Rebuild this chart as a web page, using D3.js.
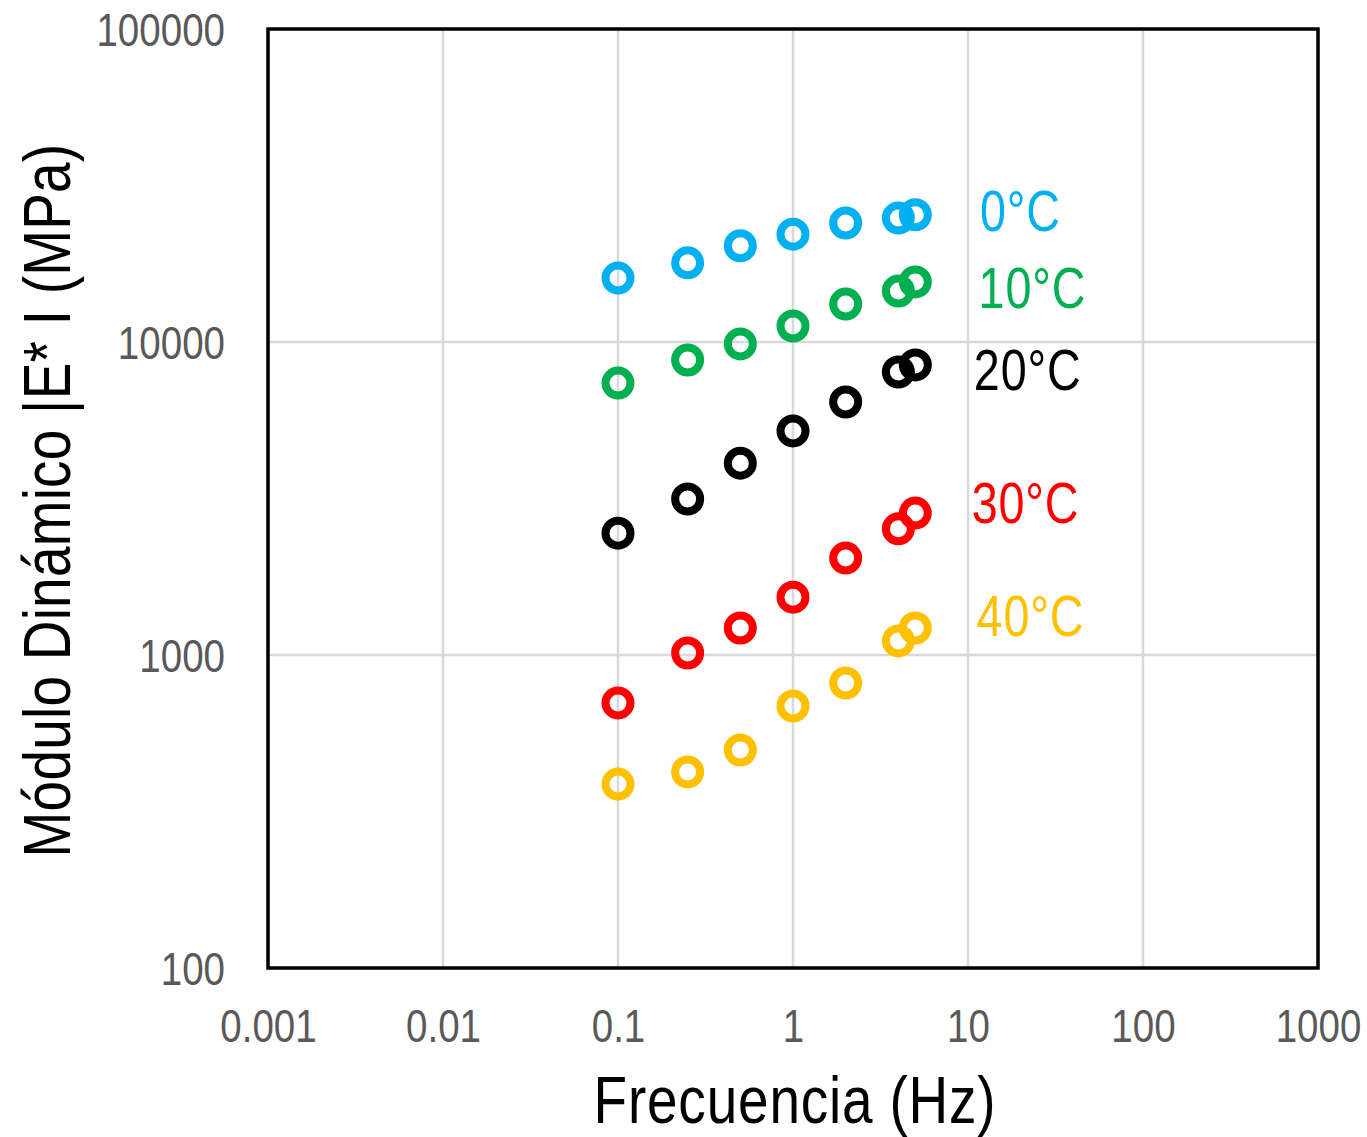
<!DOCTYPE html>
<html>
<head>
<meta charset="utf-8">
<script src="https://cdn.jsdelivr.net/npm/d3@7"></script>
<style>
  body { margin: 0; background: #fff; }
  text { font-family: "Liberation Sans", Arial, sans-serif; }
</style>
</head>
<body>
<div id="chart"></div>
<script>
// Data
const freqs = [0.1, 0.25, 0.5, 1, 2, 4, 5];
const e0  = [16000, 17900, 20300, 22100, 24000, 24900, 25500];
const e10 = [7390, 8760, 9860, 11250, 13220, 14550, 15560];
const e20 = [2450, 3150, 4100, 5200, 6430, 8020, 8450];
const e30 = [703, 1015, 1220, 1530, 2040, 2530, 2840];
const e40 = [387, 423, 497, 687, 814, 1109, 1220];

const seriesNames = ["0°C", "10°C", "20°C", "30°C", "40°C"];
const seriesColors = ["#00B0F0", "#00B050", "#000000", "#FF0000", "#FFC000"];
// label anchor (freq, value) for each series
const labelFreq = [11.7, 11.5, 10.8, 10.5, 11.2];
const labelValue = [26400, 14900, 8140, 3060, 1340];

const xTicks = [0.001, 0.01, 0.1, 1, 10, 100, 1000];
const yTicks = [100, 1000, 10000, 100000];

const svgW = 1367, svgH = 1137;
const margin = { top: 29, right: 49, bottom: 169, left: 268 };
const width = svgW - margin.left - margin.right;
const height = svgH - margin.top - margin.bottom;
const narrow = 0.82;   // narrow font look

const svg = d3.select("#chart").append("svg")
  .attr("width", svgW)
  .attr("height", svgH);

const g = svg.append("g")
  .attr("transform", `translate(${margin.left},${margin.top})`);

const x = d3.scaleLog().domain([0.001, 1000]).range([0, width]);
const y = d3.scaleLog().domain([100, 100000]).range([height, 0]);

// grid lines
g.append("g").selectAll("line").data(xTicks).enter().append("line")
  .attr("x1", d => x(d)).attr("x2", d => x(d))
  .attr("y1", 0).attr("y2", height)
  .attr("stroke", "#d9d9d9").attr("stroke-width", 2.5);
g.append("g").selectAll("line").data(yTicks).enter().append("line")
  .attr("y1", d => y(d)).attr("y2", d => y(d))
  .attr("x1", 0).attr("x2", width)
  .attr("stroke", "#d9d9d9").attr("stroke-width", 2.5);

// frame
g.append("rect")
  .attr("x", 0).attr("y", 0)
  .attr("width", width).attr("height", height)
  .attr("fill", "none").attr("stroke", "#000").attr("stroke-width", 3.5);

// axes (labels only)
const xAxis = g.append("g")
  .attr("transform", `translate(0,${height})`)
  .call(d3.axisBottom(x).tickValues(xTicks).tickFormat(d => String(d)).tickSize(0).tickPadding(41));
const yAxis = g.append("g")
  .call(d3.axisLeft(y).tickValues(yTicks).tickFormat(d => String(d)).tickSize(0));
[xAxis, yAxis].forEach(a => {
  a.select(".domain").remove();
  a.selectAll("text")
    .attr("fill", "#595959")
    .style("font-size", "47px")
    .style("font-family", "'Liberation Sans', Arial, sans-serif")
    .attr("transform", `scale(${narrow},1)`);
});
yAxis.selectAll("text").attr("x", -43 / narrow).attr("dy", "0.36em");
xAxis.selectAll("text").attr("dy", "0.71em");

// series
const allSeries = [e0, e10, e20, e30, e40];
allSeries.forEach((vals, i) => {
  g.append("g").selectAll("circle")
    .data(vals).enter().append("circle")
    .attr("cx", (d, j) => x(freqs[j]))
    .attr("cy", d => y(d))
    .attr("r", 12.5)
    .attr("fill", "none")
    .attr("stroke", seriesColors[i])
    .attr("stroke-width", 8);

  g.append("text")
    .attr("transform", `translate(${x(labelFreq[i])},${y(labelValue[i])}) scale(${narrow},1)`)
    .attr("dy", "0.36em")
    .attr("fill", seriesColors[i])
    .style("font-size", "57px")
    .style("letter-spacing", "1px")
    .text(seriesNames[i]);
});

// axis titles
svg.append("text")
  .attr("transform", `translate(${margin.left + width / 2 + 2},1123) scale(${narrow},1)`)
  .attr("text-anchor", "middle")
  .style("font-size", "67px")
  .style("letter-spacing", "1px")
  .text("Frecuencia (Hz)");

svg.append("text")
  .attr("transform", `translate(70,${margin.top + height / 2 + 2}) rotate(-90) scale(${narrow},1)`)
  .attr("text-anchor", "middle")
  .style("font-size", "67px")
  .style("letter-spacing", "0.3px")
  .text("Módulo Dinámico |E* I (MPa)");
</script>
</body>
</html>
